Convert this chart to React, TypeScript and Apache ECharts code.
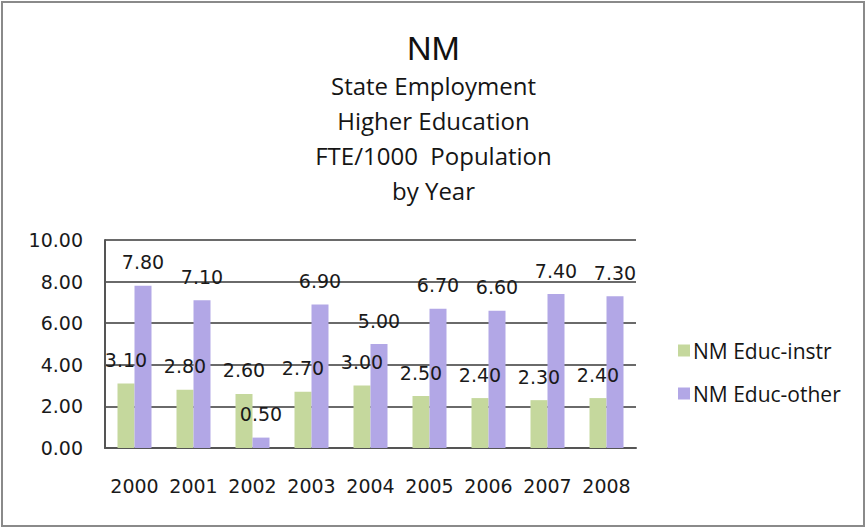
import React, { useEffect, useRef } from "react";
import * as echarts from "echarts";

const years = ["2000", "2001", "2002", "2003", "2004", "2005", "2006", "2007", "2008"];
const educInstr = [3.1, 2.8, 2.6, 2.7, 3.0, 2.5, 2.4, 2.3, 2.4];
const educOther = [7.8, 7.1, 0.5, 6.9, 5.0, 6.7, 6.6, 7.4, 7.3];
const seriesNames = ["NM Educ-instr", "NM Educ-other"];
const titleText = "NM";
const subtitleLines = ["State Employment", "Higher Education", "FTE/1000  Population", "by Year"];

export default function App() {
  const ref = useRef<HTMLDivElement>(null);
  useEffect(() => {
    const chart = echarts.init(ref.current!, null, { renderer: "svg" });
    const labelStyle = {
      show: true,
      position: "top" as const,
      distance: 14,
      fontFamily: "DejaVu Sans",
      fontSize: 19,
      color: "#1a1a1a",
      formatter: (p: any) => Number(p.value).toFixed(2),
    };
    chart.setOption({
      animation: false,
      backgroundColor: "#fff",
      graphic: [
        {
          type: "rect",
          shape: { x: 2, y: 2, width: 862, height: 524 },
          style: { fill: "none", stroke: "#8a8a8a", lineWidth: 2 },
          silent: true,
        },
      ],
      title: [
        {
          text: titleText,
          left: "center",
          top: 26,
          textStyle: { fontFamily: "Liberation Sans", fontSize: 34, fontWeight: "normal", color: "#111" },
        },
        {
          text: subtitleLines.join("\n"),
          left: "center",
          top: 63,
          textStyle: {
            fontFamily: "Open Sans",
            fontSize: 24,
            fontWeight: "normal",
            color: "#151515",
            lineHeight: 35,
            align: "center",
          },
        },
      ],
      legend: {
        orient: "vertical",
        left: 673,
        top: 335,
        itemWidth: 12,
        itemHeight: 12,
        itemGap: 22,
        icon: "rect",
        textStyle: { fontFamily: "Open Sans", fontSize: 21, color: "#151515", padding: [0, 0, 0, -2] },
        data: seriesNames,
      },
      grid: { left: 105, right: 231, top: 240, bottom: 81, containLabel: false },
      xAxis: {
        type: "category",
        data: years,
        axisLine: { show: true, lineStyle: { color: "#555", width: 2 } },
        axisTick: { show: false },
        axisLabel: { interval: 0, fontFamily: "DejaVu Sans", fontSize: 19, color: "#1a1a1a", margin: 28 },
      },
      yAxis: {
        type: "value",
        min: 0,
        max: 10,
        interval: 2,
        axisLine: { show: true, lineStyle: { color: "#555", width: 2 } },
        axisTick: { show: false },
        axisLabel: {
          fontFamily: "DejaVu Sans",
          fontSize: 19,
          color: "#1a1a1a",
          margin: 22,
          formatter: (v: number) => v.toFixed(2),
        },
        splitLine: { show: true, lineStyle: { color: "#6a6a6a", width: 2 } },
      },
      series: [
        {
          name: seriesNames[0],
          type: "bar",
          data: educInstr,
          barWidth: 17,
          barGap: "0%",
          itemStyle: { color: "#c5d89d" },
          label: labelStyle,
        },
        {
          name: seriesNames[1],
          type: "bar",
          data: educOther,
          barWidth: 17,
          barGap: "0%",
          itemStyle: { color: "#b2a7e6" },
          label: labelStyle,
        },
      ],
    });
    return () => chart.dispose();
  }, []);
  return (
    <div
      ref={ref}
      style={{ position: "absolute", left: 0, top: 0, width: 867, height: 529 }}
    />
  );
}
